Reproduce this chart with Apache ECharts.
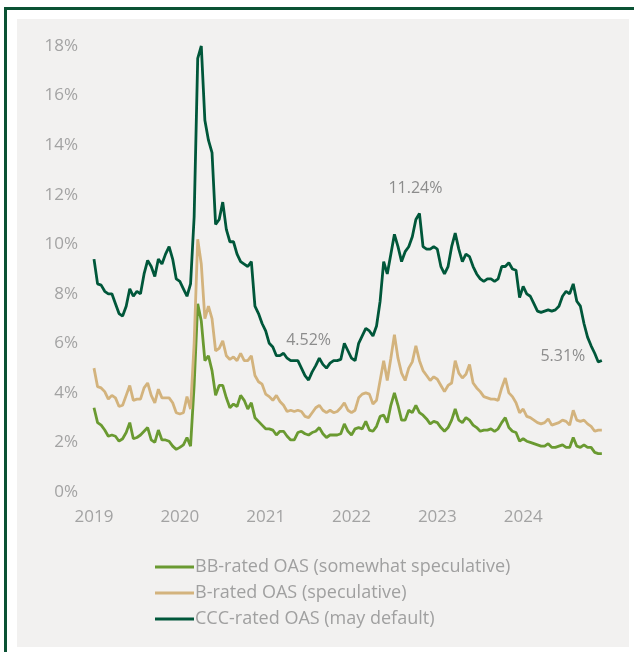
<!DOCTYPE html>
<html>
<head>
<meta charset="utf-8">
<script src="https://cdn.jsdelivr.net/npm/echarts@6/dist/echarts.min.js"></script>
<style>
html,body{margin:0;padding:0;background:#fff;}
#chart{width:634px;height:652px;}
</style>
</head>
<body>
<div id="chart"></div>
<script>
// Semi-monthly observations, starting Jan 2019
const startYear = 2019;
const periodsPerYear = 24;
const seriesNames = ['BB-rated OAS (somewhat speculative)', 'B-rated OAS (speculative)', 'CCC-rated OAS (may default)'];
const yTicks = [0, 2, 4, 6, 8, 10, 12, 14, 16, 18];
const xYears = [2019, 2020, 2021, 2022, 2023, 2024];

const bbOAS = [
  3.4, 2.8, 2.7, 2.5, 2.25, 2.3, 2.25, 2.05, 2.15, 2.4,
  2.8, 2.15, 2.2, 2.3, 2.45, 2.6, 2.1, 2.0, 2.5, 2.1,
  2.1, 2.05, 1.85, 1.72, 1.8, 1.9, 2.2, 1.85, 4.3, 7.6,
  6.9, 5.3, 5.5, 4.9, 3.9, 4.3, 4.3, 3.8, 3.4, 3.55,
  3.45, 3.9, 3.7, 3.35, 3.6, 3.0, 2.85, 2.7, 2.55, 2.55,
  2.5, 2.3, 2.45, 2.45, 2.25, 2.1, 2.1, 2.4, 2.45, 2.35,
  2.3, 2.4, 2.45, 2.6, 2.35, 2.2, 2.3, 2.3, 2.3, 2.35,
  2.75, 2.45, 2.3, 2.55, 2.6, 2.55, 2.85, 2.5, 2.45, 2.65,
  3.05, 3.1, 2.8, 3.5, 4.0, 3.5, 2.9, 2.9, 3.3, 3.2,
  3.5, 3.2, 3.1, 2.95, 2.75, 2.85, 2.8, 2.6, 2.45, 2.6,
  2.9, 3.35, 2.9, 2.8, 3.0, 2.9, 2.7, 2.6, 2.45, 2.5,
  2.5, 2.55, 2.45, 2.55, 2.8, 3.0, 2.6, 2.45, 2.4, 2.05,
  2.15, 2.05, 2.0, 1.95, 1.9, 1.85, 1.85, 1.95, 1.8, 1.8,
  1.85, 1.9, 1.8, 1.8, 2.2, 1.85, 1.8, 1.9, 1.8, 1.8,
  1.6, 1.55, 1.55
];

const bOAS = [
  5.0, 4.25, 4.2, 4.05, 3.75, 3.9, 3.8, 3.45, 3.5, 3.9,
  4.3, 3.7, 3.75, 3.75, 4.2, 4.4, 3.9, 3.6, 4.15, 3.8,
  3.8, 3.8, 3.6, 3.2, 3.15, 3.2, 3.85, 3.35, 6.0, 10.2,
  9.2, 7.0, 7.5, 7.0, 5.7, 5.8, 6.1, 5.5, 5.35, 5.45,
  5.3, 5.6, 5.3, 5.3, 5.5, 4.7, 4.45, 4.35, 3.95, 3.85,
  3.7, 3.9, 3.65, 3.5, 3.25, 3.3, 3.25, 3.3, 3.25, 3.05,
  3.0, 3.2, 3.4, 3.5, 3.3, 3.2, 3.3, 3.2, 3.25, 3.4,
  3.6, 3.3, 3.2, 3.3, 3.8, 3.95, 4.0, 3.95, 3.55, 3.7,
  4.5, 5.3, 4.5, 5.4, 6.35, 5.4, 4.8, 4.5, 5.0, 5.25,
  5.9, 5.3, 4.9, 4.7, 4.5, 4.65, 4.55, 4.3, 4.05, 4.3,
  4.4, 5.3, 4.8, 4.6, 4.75, 5.15, 4.4, 4.2, 4.05, 3.85,
  3.8, 3.75, 3.75, 3.7, 4.2, 4.6, 4.0, 3.85, 3.6, 3.2,
  3.35, 3.05, 3.0, 2.9, 2.8, 2.75, 2.8, 2.95, 2.7, 2.75,
  2.8, 2.9, 2.85, 2.7, 3.3, 2.9, 2.85, 2.9, 2.75, 2.65,
  2.45, 2.5, 2.5
];

const cccOAS = [
  9.4, 8.4, 8.35, 8.1, 8.0, 8.0, 7.6, 7.2, 7.1, 7.5,
  8.2, 7.9, 8.1, 8.0, 8.8, 9.35, 9.1, 8.7, 9.4, 9.2,
  9.6, 9.9, 9.4, 8.6, 8.5, 8.2, 7.9, 8.4, 11.1, 17.5,
  18.0, 15.0, 14.2, 13.7, 10.8, 11.0, 11.7, 10.6, 10.1, 10.1,
  9.6, 9.3, 9.2, 9.1, 9.3, 7.5, 7.2, 6.8, 6.5, 6.0,
  5.85, 5.5, 5.5, 5.6, 5.4, 5.3, 5.3, 5.3, 5.0, 4.7,
  4.52, 4.85, 5.1, 5.4, 5.15, 5.0, 5.2, 5.3, 5.3, 5.35,
  6.0, 5.7, 5.4, 5.3, 6.0, 6.3, 6.6, 6.5, 6.3, 6.7,
  7.7, 9.3, 8.8, 9.6, 10.4, 9.9, 9.3, 9.7, 9.9, 10.3,
  11.0, 11.24, 9.9, 9.8, 9.8, 9.9, 9.8, 9.1, 8.8, 9.1,
  9.9, 10.45, 9.8, 9.3, 9.6, 9.5, 9.1, 8.8, 8.6, 8.5,
  8.6, 8.6, 8.5, 8.6, 9.1, 9.1, 9.25, 9.0, 8.95, 7.85,
  8.3, 8.0, 7.9, 7.6, 7.3, 7.25, 7.3, 7.35, 7.3, 7.35,
  7.5, 7.9, 8.1, 8.0, 8.4, 7.7, 7.5, 6.8, 6.25, 5.9,
  5.6, 5.25, 5.31
];

// Annotated points: [index into cccOAS, label]
const annotations = [
  [60, '4.52%'],
  [91, '11.24%'],
  [142, '5.31%']
];
const annotationOffsets = [[0, -40], [-4, -25], [-39, -4]];

const colors = ['#6a9a31', '#d3b37d', '#00573a'];

function toPairs(arr) {
  return arr.map((v, i) => [startYear + i / periodsPerYear, v]);
}

const chart = echarts.init(document.getElementById('chart'), null, {renderer: 'canvas'});
const fontFamily = '"Open Sans", "Noto Sans", sans-serif';

const option = {
  backgroundColor: '#ffffff',
  animation: false,
  textStyle: {fontFamily: fontFamily},
  graphic: [
    {type: 'rect', z: -10, shape: {x: 5.5, y: 8.5, width: 700, height: 700}, style: {fill: 'none', stroke: '#0b5234', lineWidth: 3}},
    {type: 'rect', z: -9, shape: {x: 17, y: 19, width: 612, height: 628}, style: {fill: '#f2f1f0'}}
  ],
  grid: {left: 94, right: 25, top: 46, bottom: 160, containLabel: false},
  xAxis: {
    type: 'value',
    min: 2019, max: 2025, interval: 1,
    axisLine: {show: false}, axisTick: {show: false}, splitLine: {show: false},
    axisLabel: {
      color: '#a3a3a3', fontSize: 17, fontFamily: fontFamily, margin: 17,
      showMaxLabel: false,
      formatter: v => (xYears.indexOf(v) >= 0 ? String(v) : '')
    }
  },
  yAxis: {
    type: 'value',
    min: 0, max: 18, interval: 2,
    axisLine: {show: false}, axisTick: {show: false}, splitLine: {show: false},
    axisLabel: {
      color: '#a3a3a3', fontSize: 17, fontFamily: fontFamily, margin: 16,
      formatter: v => (yTicks.indexOf(v) >= 0 ? v + '%' : '')
    }
  },
  legend: {
    orient: 'vertical', left: 150, top: 552,
    icon: 'rect', itemWidth: 39, itemHeight: 3, itemGap: 6,
    textStyle: {color: '#a0a0a0', fontSize: 18, lineHeight: 20, fontFamily: fontFamily, padding: [0, 0, 0, -4]},
    data: seriesNames
  },
  series: [
    {name: seriesNames[0], type: 'line', data: toPairs(bbOAS), showSymbol: false, color: colors[0], lineStyle: {width: 2.8, color: colors[0]}},
    {name: seriesNames[1], type: 'line', data: toPairs(bOAS), showSymbol: false, color: colors[1], lineStyle: {width: 2.8, color: colors[1]}},
    {name: seriesNames[2], type: 'line', data: toPairs(cccOAS), showSymbol: false, color: colors[2], lineStyle: {width: 2.8, color: colors[2]},
      markPoint: {
        symbol: 'circle', symbolSize: 0,
        label: {show: true, position: 'inside', color: '#8c8c8c', fontSize: 16, fontFamily: fontFamily},
        data: annotations.map((a, k) => ({
          coord: [startYear + a[0] / periodsPerYear, cccOAS[a[0]]],
          label: {formatter: a[1], offset: annotationOffsets[k]}
        }))
      }
    }
  ]
};
chart.setOption(option);
</script>
</body>
</html>
